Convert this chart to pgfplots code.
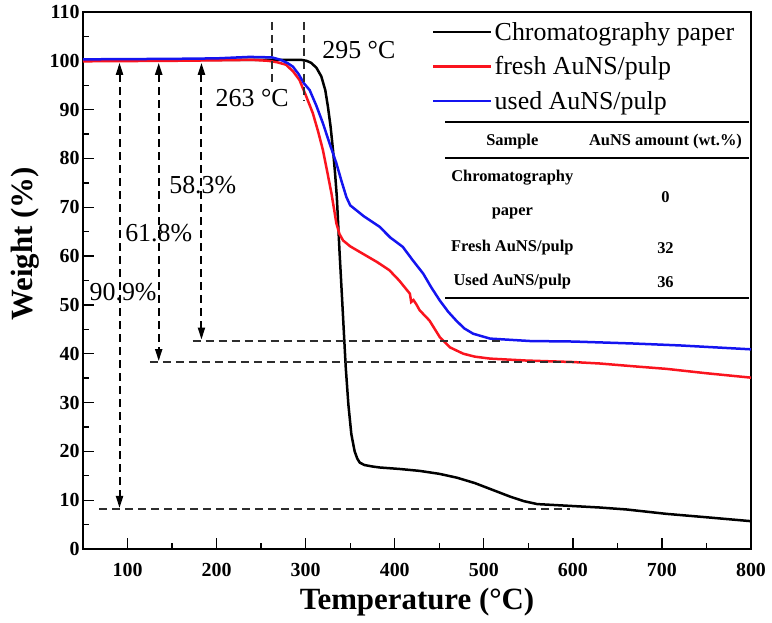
\documentclass[border=0pt]{standalone}
\usepackage{pgfplots}
\pgfplotsset{compat=1.18}
\usepackage{fontspec}
\setmainfont{Liberation Serif}
\usetikzlibrary{arrows.meta}
\definecolor{cred}{RGB}{250,20,30}
\definecolor{cblue}{RGB}{20,20,240}
\definecolor{dgray}{RGB}{45,45,45}
\newcommand{\tl}[1]{\textbf{\fontsize{20}{24}\selectfont #1}}
\begin{document}
\begin{tikzpicture}
\begin{axis}[
  scale only axis, width=668bp, height=537bp,
  xmin=50, xmax=800, ymin=0, ymax=110,
  xtick={100,200,...,800}, ytick={0,10,...,110},
  xticklabels={\tl{100},\tl{200},\tl{300},\tl{400},\tl{500},\tl{600},\tl{700},\tl{800}},
  yticklabels={\tl{0},\tl{10},\tl{20},\tl{30},\tl{40},\tl{50},\tl{60},\tl{70},\tl{80},\tl{90},\tl{100},\tl{110}},
  minor x tick num=1, minor y tick num=1,
  tick align=inside, xtick pos=left, ytick pos=left,
  major tick length=11bp, minor tick length=6bp,
  axis line style={line width=1.5bp},
  every tick/.style={line width=1.3bp, black},
  ticklabel style={font=\fontsize{20}{24}\selectfont\bfseries},
  xticklabel style={yshift=-11bp},
  xlabel={Temperature (°C)}, ylabel={Weight (\%)},
  label style={font=\fontsize{31}{36}\selectfont\bfseries},
  xlabel style={at={(axis description cs:0.5,0)}, anchor=base, yshift=-60bp},
  ylabel style={at={(axis description cs:-0.0749,0.568)}, anchor=base},
  legend style={draw=none, fill=none, at={(axis description cs:0.5225,0.985)}, anchor=north west,
    font=\fontsize{26}{30}\selectfont, row sep=11bp, inner sep=0pt, nodes={inner sep=2bp}},
  legend cell align=left,
  legend image code/.code={\draw[#1, line width=2.5bp] (0bp,0bp) -- (58bp,0bp);},
]
\addplot[black, line width=2.5bp] coordinates {
(50,100.2) (100,100.2) (200,100.2) (280,100.2) (295,100.2) (301,100) (306,99.6) (312,98.6) (317.6,96.8) (322,94) (325,90.6) (328,86.5) (330.7,81.7) (333,77) (335,72.1) (338,61) (341,50.9) (343,44) (345,37.2) (348,29.5) (351.3,23.5) (355,20) (358,18.5) (360.7,17.7) (366,17.2) (375,16.9) (383,16.7) (405,16.4) (428,16) (450,15.4) (470,14.6) (490,13.5) (510,12.1) (530,10.7) (545,9.8) (560,9.2) (600,8.8) (630,8.5) (660,8.1) (705,7.2) (750,6.5) (800,5.7)};
\addlegendentry{Chromatography paper}
\addplot[cred, line width=2.5bp] coordinates {
(50,99.9) (150,100) (200,100.1) (240,100.2) (258,100) (268,99.7) (278,99.2) (286,97.8) (293,96.1) (300,93) (308,89.3) (314,85.5) (319.4,81.7) (324,77.5) (329,72.8) (334.5,66.7) (338,64.5) (342,63.2) (350,62) (364,60.5) (380,58.8) (394,57.1) (405,55) (417,52.3) (418.5,50.6) (421,51) (424,50.2) (428,48.9) (439,46.8) (450.6,43.4) (462,41.3) (477,40) (490,39.4) (507,39) (548,38.6) (600,38.3) (630,38) (670,37.4) (705,36.9) (750,36) (800,35.1)};
\addlegendentry{fresh AuNS/pulp}
\addplot[cblue, line width=2.5bp] coordinates {
(50,100.3) (150,100.4) (200,100.5) (237,100.8) (262,100.7) (272,100.2) (280,99.5) (285.7,98.8) (292,97.3) (298,95.4) (304.5,94) (312,90.8) (319.4,87.2) (327,83) (334.5,79) (340,75.5) (345.7,72.1) (350,70.4) (365,68.2) (383,66) (395,63.8) (409,61.9) (420,59.2) (432,56.4) (441,53.6) (450.6,50.9) (460,48.6) (469,46.8) (478,45.2) (488,44.1) (507,43.1) (552,42.6) (600,42.5) (667,42.1) (720,41.7) (760,41.3) (800,40.9)};
\addlegendentry{used AuNS/pulp}

% dashed guide lines
\draw[dgray, line width=2bp, dash pattern=on 8bp off 5bp] (axis cs:68.5,8.2) -- (axis cs:597,8.2);
\draw[dgray, line width=2bp, dash pattern=on 8bp off 5bp] (axis cs:125,38.3) -- (axis cs:608,38.3);
\draw[dgray, line width=2bp, dash pattern=on 8bp off 5bp] (axis cs:173,42.7) -- (axis cs:523,42.7);
\draw[dgray, line width=2bp, dash pattern=on 8bp off 5bp] (axis cs:262,108) -- (axis cs:262,95.5);
\draw[dgray, line width=2bp, dash pattern=on 8bp off 5bp] (axis cs:298.5,108) -- (axis cs:298.5,92);
% arrows
\draw[black, line width=2bp, dash pattern=on 8bp off 5bp, {Triangle[length=12bp,width=7bp]}-{Triangle[length=12bp,width=7bp]}] (axis cs:91,99.6) -- (axis cs:91,8.4);
\draw[black, line width=2bp, dash pattern=on 8bp off 5bp, {Triangle[length=12bp,width=7bp]}-{Triangle[length=12bp,width=7bp]}] (axis cs:135,99.6) -- (axis cs:135,38.5);
\draw[black, line width=2bp, dash pattern=on 8bp off 5bp, {Triangle[length=12bp,width=7bp]}-{Triangle[length=12bp,width=7bp]}] (axis cs:183,99.6) -- (axis cs:183,42.9);
% annotations
\node[font=\fontsize{26}{30}\selectfont, anchor=west, inner sep=0pt] at (axis cs:318.6,102.2) {295 °C};
\node[font=\fontsize{26}{30}\selectfont, inner sep=0pt] at (axis cs:240,92.4) {263 °C};
\node[font=\fontsize{26}{30}\selectfont, inner sep=0pt] at (axis cs:184.5,74.6) {58.3\%};
\node[font=\fontsize{26}{30}\selectfont, inner sep=0pt] at (axis cs:135,64.7) {61.8\%};
\node[font=\fontsize{26}{30}\selectfont, inner sep=0pt] at (axis cs:95,52.6) {90.9\%};
% table
\draw[black, line width=1.5bp] (axis cs:456.8,87.47) -- (axis cs:797.7,87.47);
\draw[black, line width=1.5bp] (axis cs:456.8,80.09) -- (axis cs:797.7,80.09);
\draw[black, line width=1.5bp] (axis cs:456.8,51.41) -- (axis cs:797.7,51.41);
\begin{scope}[every node/.style={font=\fontsize{16.5}{19}\selectfont\bfseries, inner sep=0pt}]
\node at (axis cs:532,83.4) {Sample};
\node at (axis cs:704,83.4) {AuNS amount (wt.\%)};
\node at (axis cs:532,76.0) {Chromatography};
\node at (axis cs:532,68.8) {paper};
\node at (axis cs:704,72.1) {0};
\node at (axis cs:532,61.7) {Fresh AuNS/pulp};
\node at (axis cs:704,61.7) {32};
\node at (axis cs:532,54.7) {Used AuNS/pulp};
\node at (axis cs:704,54.7) {36};
\end{scope}
\end{axis}
\pgfresetboundingbox
\path (-83bp,-74bp) rectangle (689bp,549bp);
\end{tikzpicture}
\end{document}
